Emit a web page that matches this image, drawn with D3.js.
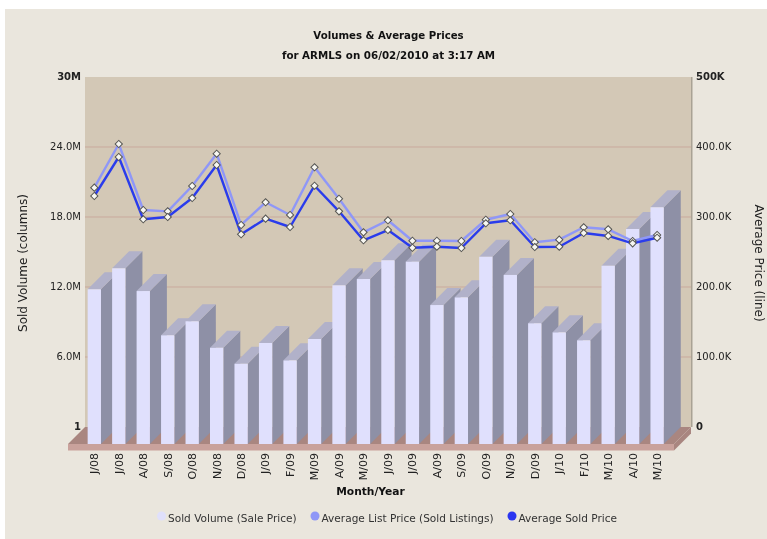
<!DOCTYPE html>
<html>
<head>
<meta charset="utf-8">
<script src="https://cdn.jsdelivr.net/npm/d3@7.9.0/dist/d3.min.js"></script>
<style>
  html, body { margin: 0; padding: 0; background: #fff; }
  svg { display: block; font-family: "DejaVu Sans", sans-serif; filter: blur(0.45px); }
</style>
</head>
<body>
<svg id="chart" width="767" height="539"></svg>
<script>
const months = ["J/08","J/08","A/08","S/08","O/08","N/08","D/08","J/09","F/09","M/09","A/09","M/09","J/09","J/09","A/09","S/09","O/09","N/09","D/09","J/10","F/10","M/10","A/10","M/10"];

// millions of dollars
const soldVolume = [13.26,15.06,13.11,9.32,10.52,8.25,6.88,8.66,7.17,9.0,13.6,14.14,15.75,15.63,11.91,12.57,16.05,14.49,10.35,9.57,8.89,15.28,18.43,20.29];
// thousands of dollars
const avgListPrice = [341.9,404.3,310,308.1,344.3,390.4,288.6,321,302.9,371,326.1,278.1,295.3,266.1,266.1,265.7,296.1,304.3,263.9,267.6,285.3,282.4,265.7,274.3];
const avgSoldPrice = [330,385.7,296.7,300,327.1,374.3,275.3,297.6,285.7,344.7,308.1,266.7,281.4,256.1,257.6,255.7,291,295.3,257.1,257.6,277.1,272.9,262.4,270.4];

const volumeTicks = [0,6,12,18,24,30];
const volumeLabels = ["1","6.0M","12.0M","18.0M","24.0M","30M"];
const priceTicks = [0,100,200,300,400,500];
const priceLabels = ["0","100.0K","200.0K","300.0K","400.0K","500K"];

const legendItems = [
  { label: "Sold Volume (Sale Price)", color: "#e0e0fb", x: 161.5 },
  { label: "Average List Price (Sold Listings)", color: "#8f97f7", x: 315 },
  { label: "Average Sold Price", color: "#2a35f0", x: 512 }
];

const svg = d3.select("#chart");
const depth = 17;
const wall = { left: 85, right: 691, top: 77, bottom: 427 };

const x = d3.scaleBand()
  .domain(d3.range(months.length))
  .range([82.07, 669.35])
  .paddingInner(0.456)
  .paddingOuter(0.228);

const yVol = d3.scaleLinear().domain([0, 30]).range([wall.bottom, wall.top]);
const yPrice = d3.scaleLinear().domain([0, 500]).range([wall.bottom, wall.top]);

// page panel
svg.append("rect")
  .attr("x", 5).attr("y", 9)
  .attr("width", 762).attr("height", 530)
  .attr("fill", "#eae6dd");

// back wall
svg.append("rect")
  .attr("x", wall.left).attr("y", wall.top)
  .attr("width", wall.right - wall.left)
  .attr("height", wall.bottom - wall.top)
  .attr("fill", "#d3c8b6");
svg.append("rect")
  .attr("x", wall.right).attr("y", wall.top)
  .attr("width", 1.5)
  .attr("height", wall.bottom - wall.top)
  .attr("fill", "#a9a294");

// grid lines
svg.append("g")
  .selectAll("line")
  .data(volumeTicks.slice(1, -1))
  .enter()
  .append("line")
  .attr("x1", wall.left)
  .attr("x2", wall.right)
  .attr("y1", d => yVol(d))
  .attr("y2", d => yVol(d))
  .attr("stroke", "#c9a99c")
  .attr("stroke-width", 1);

// floor
const floorH = 6.5;
svg.append("polygon")
  .attr("points", [[wall.left, wall.bottom], [wall.right, wall.bottom], [wall.right - depth, wall.bottom + depth], [wall.left - depth, wall.bottom + depth]].join(" "))
  .attr("fill", "#a98680");
svg.append("rect")
  .attr("x", wall.left - depth).attr("y", wall.bottom + depth)
  .attr("width", wall.right - wall.left)
  .attr("height", floorH)
  .attr("fill", "#c9a29c");
svg.append("polygon")
  .attr("points", [[wall.right - depth, wall.bottom + depth], [wall.right, wall.bottom], [wall.right, wall.bottom + floorH], [wall.right - depth, wall.bottom + depth + floorH]].join(" "))
  .attr("fill", "#a98680");

// 3d columns, left to right so each front hides the side before it
const bars = svg.append("g")
  .selectAll("g")
  .data(soldVolume)
  .enter()
  .append("g");

bars.append("polygon")
  .attr("fill", "#8e90a6")
  .attr("points", (d, i) => {
    const r = x(i) + x.bandwidth();
    return [[r, yVol(d) + depth], [r + depth, yVol(d)], [r + depth, yVol(0)], [r, yVol(0) + depth]].join(" ");
  });

bars.append("polygon")
  .attr("fill", "#b1b1c9")
  .attr("points", (d, i) => {
    const l = x(i), r = l + x.bandwidth();
    return [[l, yVol(d) + depth], [l + depth, yVol(d)], [r + depth, yVol(d)], [r, yVol(d) + depth]].join(" ");
  });

bars.append("rect")
  .attr("fill", "#e0e0fd")
  .attr("x", (d, i) => x(i))
  .attr("y", d => yVol(d) + depth)
  .attr("width", x.bandwidth())
  .attr("height", d => yVol(0) - yVol(d));

// price lines
const cx = i => x(i) + x.bandwidth() / 2;
const line = d3.line()
  .x((d, i) => cx(i))
  .y(d => yPrice(d));

[[avgListPrice, "#8f97f7"], [avgSoldPrice, "#2a3cec"]].forEach(([series, color]) => {
  svg.append("path")
    .datum(series)
    .attr("fill", "none")
    .attr("stroke", color)
    .attr("stroke-width", 2.4)
    .attr("stroke-linejoin", "round")
    .attr("d", line);
});

[avgListPrice, avgSoldPrice].forEach(series => {
  svg.append("g")
    .selectAll("path")
    .data(series)
    .enter()
    .append("path")
    .attr("d", d3.symbol().type(d3.symbolSquare).size(26))
    .attr("transform", (d, i) => `translate(${cx(i)},${yPrice(d)}) rotate(45)`)
    .attr("fill", "#f7f7f2")
    .attr("stroke", "#555552")
    .attr("stroke-width", 1);
});

// axes
const axisLeft = svg.append("g")
  .attr("transform", `translate(${wall.left},-0.5)`)
  .call(d3.axisLeft(yVol).tickValues(volumeTicks).tickSize(0).tickPadding(4).tickFormat((d, i) => volumeLabels[i]));
const axisRight = svg.append("g")
  .attr("transform", `translate(${wall.right},-0.5)`)
  .call(d3.axisRight(yPrice).tickValues(priceTicks).tickSize(0).tickPadding(5).tickFormat((d, i) => priceLabels[i]));

[axisLeft, axisRight].forEach(a => {
  a.select(".domain").remove();
  a.attr("font-family", null).attr("font-size", null);
  a.selectAll("text")
    .attr("font-size", "10px")
    .attr("fill", "#222")
    .attr("font-weight", (d, i) => (i === 0 || i === 5) ? "bold" : "normal");
});

const axisBottom = svg.append("g")
  .attr("transform", `translate(0,${wall.bottom + depth + floorH})`)
  .call(d3.axisBottom(x).tickSize(0).tickFormat(i => months[i]));
axisBottom.select(".domain").remove();
axisBottom.attr("font-family", null);
axisBottom.selectAll("text")
  .attr("transform", "rotate(-90)")
  .attr("text-anchor", "end")
  .attr("x", -2.5)
  .attr("y", 0)
  .attr("dy", "0.35em")
  .attr("font-size", "11px")
  .attr("fill", "#222");

// titles
function label(text, px, py, opts = {}) {
  return svg.append("text")
    .attr("transform", `translate(${px},${py}) rotate(${opts.rotate || 0})`)
    .attr("text-anchor", opts.anchor || "middle")
    .attr("dy", "0.35em")
    .attr("font-size", opts.size || "10px")
    .attr("font-weight", opts.weight || "normal")
    .attr("fill", opts.fill || "#111")
    .text(text);
}

label("Volumes & Average Prices", 388.5, 35.5, { size: "10.2px", weight: "bold" });
label("for ARMLS on 06/02/2010 at 3:17 AM", 388.5, 55, { size: "10.3px", weight: "bold" });
label("Month/Year", 370.5, 491, { size: "10.7px", weight: "bold" });
label("Sold Volume (columns)", 23, 263, { size: "12px", rotate: -90, fill: "#222" });
label("Average Price (line)", 759, 263, { size: "12px", rotate: 90, fill: "#222" });

// legend
const legend = svg.append("g")
  .selectAll("g")
  .data(legendItems)
  .enter()
  .append("g")
  .attr("transform", d => `translate(${d.x},516)`);

legend.append("circle")
  .attr("r", 4.5)
  .attr("fill", d => d.color);

legend.append("text")
  .attr("x", 6.5)
  .attr("y", 2)
  .attr("dy", "0.35em")
  .attr("font-size", "10.55px")
  .attr("fill", "#333")
  .text(d => d.label);
</script>
</body>
</html>
